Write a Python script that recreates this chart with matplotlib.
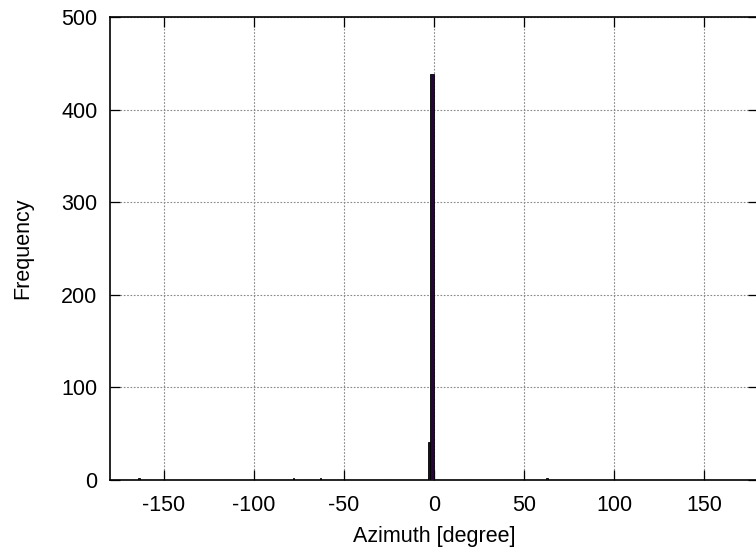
import matplotlib
matplotlib.use('Agg')
import matplotlib.pyplot as plt

# histogram bins (azimuth, degrees) and counts
bin_left = [-164.5, -78.5, -63.5, -3.3, -2.1, 62.5]
bin_right = [-163.5, -77.5, -62.5, -2.1, -0.2, 63.5]
counts = [2, 2, 2, 41, 438, 2]

xticks = [-150, -100, -50, 0, 50, 100, 150]
yticks = [0, 100, 200, 300, 400, 500]

plt.rcParams['font.family'] = ['Liberation Sans', 'DejaVu Sans']
plt.rcParams['font.size'] = 15.5
plt.rcParams['axes.unicode_minus'] = False

fig = plt.figure(figsize=(7.56, 5.56), dpi=100)
ax = fig.add_axes([110 / 756, 76 / 556, 648 / 756, 463 / 556])

widths = [r - l for l, r in zip(bin_left, bin_right)]
ax.bar(bin_left, counts, width=widths, align='edge',
       color='#24063c', edgecolor='black', linewidth=0.6, zorder=3)

ax.set_xlim(-180, 180)
ax.set_ylim(0, 500)
ax.set_xticks(xticks)
ax.set_yticks(yticks)
ax.grid(True, linestyle=(0, (1.5, 1.5)), color='#888888', linewidth=0.8)
ax.tick_params(direction='in', length=7, width=0.9, top=True, right=True,
               labelsize=15.5)
ax.tick_params(axis='x', pad=11)
ax.tick_params(axis='y', pad=9)
for s in ax.spines.values():
    s.set_linewidth(1.2)

ax.set_xlabel('Azimuth [degree]', labelpad=7)
ax.set_ylabel('Frequency', labelpad=20)

fig.savefig('out.png', dpi=100)
